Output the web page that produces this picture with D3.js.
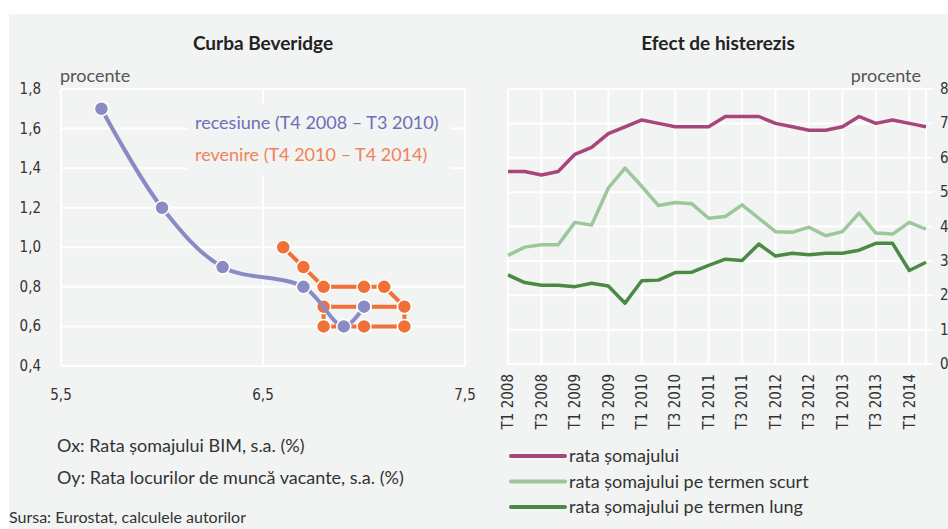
<!DOCTYPE html>
<html>
<head>
<meta charset="utf-8">
<script src="https://cdn.jsdelivr.net/npm/d3@7"></script>
<style>
  body { margin: 0; background: #fff; }
  svg text { font-family: Lato, "Open Sans", sans-serif; }
  .tick-lbl { font-family: "Liberation Sans Narrow", "DejaVu Sans Condensed", Lato, sans-serif; }
</style>
</head>
<body>
<div class="chart"></div>
<script>
// Curba Beveridge: x = unemployment rate, y = job vacancy rate
const recesiuneX = [5.7, 6.0, 6.3, 6.7, 6.9, 7.0];
const recesiuneY = [1.7, 1.2, 0.9, 0.8, 0.6, 0.7];
const revenireX = [6.6, 6.7, 6.8, 7.0, 7.1, 7.2, 7.2, 7.0, 6.8, 6.8, 7.0, 7.2];
const revenireY = [1.0, 0.9, 0.8, 0.8, 0.8, 0.7, 0.6, 0.6, 0.6, 0.7, 0.7, 0.7];
const bevXTicks = [5.5, 6.5, 7.5];
const bevYTicks = [0.4, 0.6, 0.8, 1.0, 1.2, 1.4, 1.6, 1.8];

// Efect de histerezis: quarterly, T1 2008 - T2 2014
const quarters = ["T1 2008","T2 2008","T3 2008","T4 2008","T1 2009","T2 2009","T3 2009","T4 2009",
  "T1 2010","T2 2010","T3 2010","T4 2010","T1 2011","T2 2011","T3 2011","T4 2011",
  "T1 2012","T2 2012","T3 2012","T4 2012","T1 2013","T2 2013","T3 2013","T4 2013",
  "T1 2014","T2 2014"];
const rataSomaj = [5.6, 5.6, 5.5, 5.6, 6.1, 6.3, 6.7, 6.9, 7.1, 7.0, 6.9, 6.9, 6.9,
  7.2, 7.2, 7.2, 7.0, 6.9, 6.8, 6.8, 6.9, 7.2, 7.0, 7.1, 7.0, 6.9];
const somajScurt = [3.16, 3.40, 3.47, 3.47, 4.12, 4.04, 5.12, 5.70, 5.17, 4.61, 4.70, 4.66, 4.24,
  4.29, 4.63, 4.24, 3.85, 3.83, 3.98, 3.73, 3.85, 4.39, 3.81, 3.78, 4.12, 3.92];
const somajLung = [2.59, 2.37, 2.29, 2.29, 2.25, 2.35, 2.27, 1.77, 2.42, 2.44, 2.66, 2.67, 2.87,
  3.05, 3.01, 3.49, 3.14, 3.22, 3.18, 3.22, 3.22, 3.31, 3.51, 3.51, 2.72, 2.96];
const histYTicks = [0, 1, 2, 3, 4, 5, 6, 7, 8];

const W = 948, H = 529;
const BG = "#f2f3f3";
const PURPLE = "#8a8ac4", ORANGE = "#f07038";

const svg = d3.select(".chart").append("svg").attr("width", W).attr("height", H);
svg.append("rect").attr("x", 9).attr("y", 14).attr("width", W - 9).attr("height", H - 14).attr("fill", BG);

// ---------- left chart ----------
const bx = d3.scaleLinear().domain([5.5, 7.5]).range([61, 465]);
const by = d3.scaleLinear().domain([0.4, 1.8]).range([366, 89]);
const left = svg.append("g");

left.selectAll(".hg").data(bevYTicks).join("line")
  .attr("x1", bx(5.5)).attr("x2", bx(7.5)).attr("y1", d => by(d)).attr("y2", d => by(d))
  .attr("stroke", "#fff").attr("stroke-width", 2);
left.selectAll(".vg").data(bevXTicks).join("line")
  .attr("x1", d => bx(d)).attr("x2", d => bx(d)).attr("y1", by(1.8)).attr("y2", by(0.4))
  .attr("stroke", "#fff").attr("stroke-width", 2);

// legend background hides the grid behind the labels
left.append("rect").attr("x", 187).attr("y", 103).attr("width", 263).attr("height", 72).attr("fill", BG);
left.append("text").attr("x", 195).attr("y", 129).attr("fill", "#6e6eb6").attr("font-size", 18)
  .text("recesiune (T4 2008  – T3 2010)");
left.append("text").attr("x", 195).attr("y", 161).attr("fill", "#f08258").attr("font-size", 18)
  .text("revenire (T4 2010 – T4 2014)");

left.selectAll(".yl").data(bevYTicks).join("text").attr("class", "tick-lbl")
  .attr("x", 41).attr("y", d => by(d) + 5).attr("text-anchor", "end")
  .attr("font-size", 15).attr("fill", "#333").text(d => d3.format(".1f")(d).replace(".", ","));
left.selectAll(".xl").data(bevXTicks).join("text").attr("class", "tick-lbl")
  .attr("x", d => bx(d)).attr("y", 400).attr("text-anchor", "middle")
  .attr("font-size", 15).attr("fill", "#333").text(d => d3.format(".1f")(d).replace(".", ","));

left.append("text").attr("x", 60).attr("y", 82).attr("font-size", 18).attr("fill", "#555").text("procente");

const rev = revenireX.map((x, i) => [x, revenireY[i]]);
const rec = recesiuneX.map((x, i) => [x, recesiuneY[i]]);

left.append("path").datum(rev)
  .attr("d", d3.line().x(d => bx(d[0])).y(d => by(d[1])))
  .attr("fill", "none").attr("stroke", ORANGE).attr("stroke-width", 4);
left.selectAll(".rv").data(rev).join("circle")
  .attr("cx", d => bx(d[0])).attr("cy", d => by(d[1])).attr("r", 7)
  .attr("fill", ORANGE).attr("stroke", "#fff").attr("stroke-width", 1.5);

left.append("path").datum(rec)
  .attr("d", d3.line().x(d => bx(d[0])).y(d => by(d[1])).curve(d3.curveCatmullRom.alpha(0.5)))
  .attr("fill", "none").attr("stroke", PURPLE).attr("stroke-width", 4);
left.selectAll(".rc").data(rec).join("circle")
  .attr("cx", d => bx(d[0])).attr("cy", d => by(d[1])).attr("r", 7)
  .attr("fill", PURPLE).attr("stroke", "#fff").attr("stroke-width", 1.5);

left.append("text").attr("x", 263).attr("y", 50).attr("text-anchor", "middle")
  .attr("font-size", 19).attr("font-weight", "bold").attr("fill", "#222").text("Curba Beveridge");

left.append("text").attr("x", 57).attr("y", 452).attr("font-size", 18).attr("fill", "#333")
  .text("Ox: Rata șomajului BIM, s.a. (%)");
left.append("text").attr("x", 57).attr("y", 484).attr("font-size", 18).attr("fill", "#333")
  .text("Oy: Rata locurilor de muncă vacante, s.a. (%)");
left.append("text").attr("x", 9).attr("y", 523).attr("font-size", 16).attr("fill", "#333")
  .text("Sursa: Eurostat, calculele autorilor");

// ---------- right chart ----------
const hx = d3.scaleLinear().domain([0, quarters.length - 1]).range([508, 926]);
const hy = d3.scaleLinear().domain([0, 8]).range([364, 89]);
const right = svg.append("g");

right.selectAll(".hg").data(histYTicks).join("line")
  .attr("x1", hx(0)).attr("x2", 933).attr("y1", d => hy(d)).attr("y2", d => hy(d))
  .attr("stroke", "#fff").attr("stroke-width", 2);
const vIdx = quarters.map((q, i) => i).filter(i => i % 2 === 0 || i === quarters.length - 1);
right.selectAll(".vg").data(vIdx).join("line")
  .attr("x1", d => hx(d)).attr("x2", d => hx(d)).attr("y1", hy(8)).attr("y2", hy(0))
  .attr("stroke", "#fff").attr("stroke-width", 2);

right.selectAll(".yl").data(histYTicks).join("text").attr("class", "tick-lbl")
  .attr("x", 940).attr("y", d => hy(d) + 5).attr("font-size", 15).attr("fill", "#333").text(d => d);

const labIdx = quarters.map((q, i) => i).filter(i => i % 2 === 0);
right.selectAll(".xl").data(labIdx).join("text").attr("class", "tick-lbl")
  .attr("transform", d => `translate(${hx(d)},374) rotate(-90)`)
  .attr("text-anchor", "end").attr("dy", "0.35em")
  .attr("font-size", 15).attr("fill", "#333").text(d => quarters[d]);

right.append("text").attr("x", 921).attr("y", 82).attr("text-anchor", "end")
  .attr("font-size", 18).attr("fill", "#555").text("procente");

const series = [
  { name: "rata șomajului", values: rataSomaj, color: "#a8457c" },
  { name: "rata șomajului pe termen scurt", values: somajScurt, color: "#9cc79a" },
  { name: "rata șomajului pe termen lung", values: somajLung, color: "#4b8a43" }
];
const hline = d3.line().x((d, i) => hx(i)).y(d => hy(d));
right.selectAll(".ser").data(series).join("path")
  .attr("d", d => hline(d.values)).attr("fill", "none")
  .attr("stroke", d => d.color).attr("stroke-width", 3.5).attr("stroke-linejoin", "round");

const leg = right.selectAll(".leg").data(series).join("g")
  .attr("transform", (d, i) => `translate(511,${456 + i * 25.5})`);
leg.append("line").attr("x1", 0).attr("x2", 54).attr("stroke", d => d.color)
  .attr("stroke-width", 4).attr("stroke-linecap", "round");
leg.append("text").attr("x", 58).attr("y", 6).attr("font-size", 18).attr("fill", "#333").text(d => d.name);

right.append("text").attr("x", 718).attr("y", 50).attr("text-anchor", "middle")
  .attr("font-size", 19).attr("font-weight", "bold").attr("fill", "#222").text("Efect de histerezis");
</script>
</body>
</html>
